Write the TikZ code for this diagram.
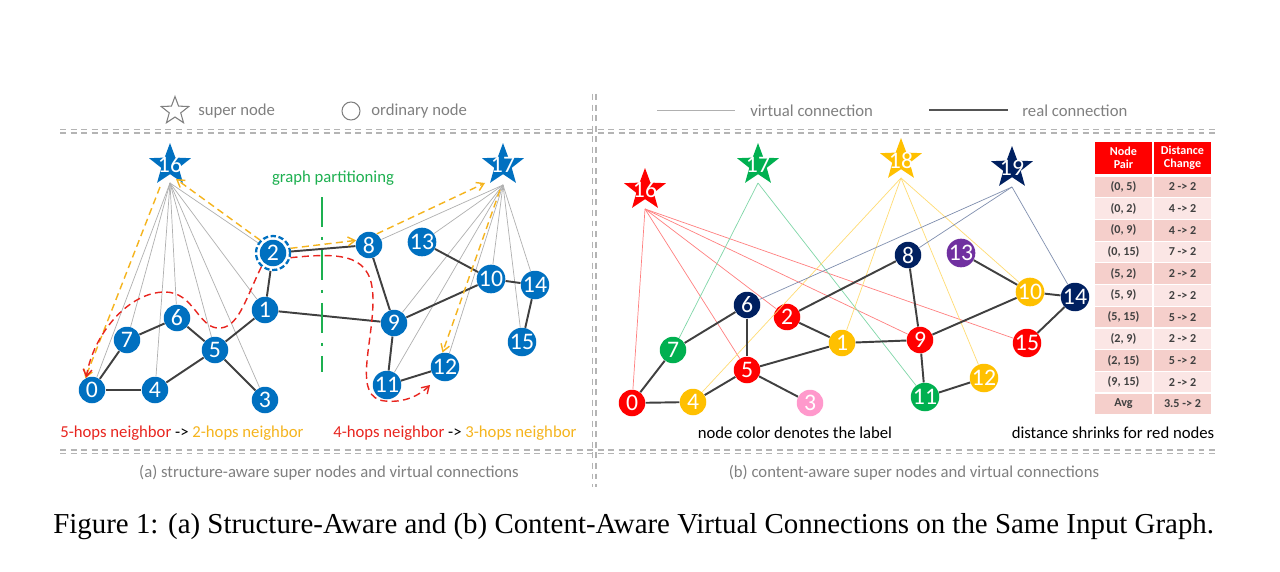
\documentclass[tikz,border=0pt]{standalone}
\usepackage{fontspec}
\setmainfont{Liberation Serif}
\setsansfont{Carlito}
\usetikzlibrary{shapes.geometric,arrows.meta,positioning}

\definecolor{nodeblue}{HTML}{0070C0}
\definecolor{lblred}{HTML}{FF0000}
\definecolor{lblgreen}{HTML}{00B050}
\definecolor{lblyellow}{HTML}{FFC000}
\definecolor{lblnavy}{HTML}{002060}
\definecolor{lblpurple}{HTML}{7030A0}
\definecolor{lblpink}{HTML}{FF99CC}
\definecolor{edgegray}{HTML}{404040}
\definecolor{virtgray}{HTML}{B0B0B0}
\definecolor{sepgray}{HTML}{B4B4B4}
\definecolor{txtgray}{HTML}{808080}
\definecolor{rowdark}{HTML}{F5CFCB}
\definecolor{rowlight}{HTML}{FBE6E5}
\definecolor{hopred}{HTML}{E8251F}
\definecolor{hopyellow}{HTML}{F5B41E}
\definecolor{cutgreen}{HTML}{1DB050}

\newcommand{\numfont}{\sffamily\fontsize{13.5}{14}\selectfont}
\newcommand{\legendfont}{\sffamily\fontsize{9.5}{11}\selectfont}
\newcommand{\tabfont}{\sffamily\bfseries\fontsize{6.9}{7.4}\selectfont}

\tikzset{
  onode/.style={circle, inner sep=0pt, minimum size=0.53cm, text=white, font=\numfont},
  bnode/.style={onode, fill=nodeblue},
  superstar/.style={star, star points=5, star point ratio=2.4, inner sep=0pt, minimum size=0.88cm},
  numw/.style={text=white, font=\numfont, inner sep=0pt},
  real/.style={draw=edgegray, line width=1.1pt},
  virt/.style={draw=virtgray, line width=0.4pt},
  cvirt/.style={line width=0.4pt},
  sepline/.style={draw=sepgray, line width=0.7pt, dash pattern=on 3.4pt off 2.6pt},
  hop/.style={line width=0.8pt, dash pattern=on 4pt off 2.5pt, ->},
  txt/.style={inner sep=0pt, font=\legendfont},
  tcell/.style={rectangle, inner sep=0pt, minimum width=1.14cm, minimum height=0.41cm, font=\tabfont, text=edgegray},
  thead/.style={tcell, fill=lblred, text=white, minimum height=0.64cm, align=center},
}

\begin{document}
\begin{tikzpicture}[x=0.02cm, y=-0.02cm, >={Straight Barb[length=4pt,width=5pt]}]
\fill[white] (0,0) rectangle (1280,571);
\useasboundingbox (0,0) rectangle (1280,571);

% legend
\node[superstar, draw=txtgray, line width=0.6pt, minimum size=0.58cm] (legstar) at (175,111) {};
\node[txt, text=txtgray, anchor=west] (legsuper) at (198,111) {super node};
\node[circle, draw=txtgray, line width=0.6pt, minimum size=0.36cm, inner sep=0pt] (legcirc) at (351,111) {};
\node[txt, text=txtgray, anchor=west] (legord) at (371,111) {ordinary node};
\coordinate (lv1) at (657,110);
\coordinate (lv2) at (735,110);
\draw[virt] (lv1) -- (lv2);
\node[txt, text=txtgray, anchor=west] (legvirt) at (750,111) {virtual connection};
\coordinate (lr1) at (929,110);
\coordinate (lr2) at (1008,110);
\draw[draw=edgegray!90, line width=1.2pt] (lr1) -- (lr2);
\node[txt, text=txtgray, anchor=west] (legreal) at (1022,111) {real connection};

% separators
\draw[sepline] (60,129.5) -- (1218,129.5);
\draw[sepline] (60,133) -- (1218,133);
\draw[sepline] (60,450) -- (1218,450);
\draw[sepline] (60,453.5) -- (1218,453.5);
\draw[sepline] (592.5,94) -- (592.5,487);
\draw[sepline] (596,94) -- (596,487);

% (a) structure-aware
\node[superstar, fill=nodeblue, label={[numw, name=t16]center:16}] (as16) at (170,165) {};
\node[superstar, fill=nodeblue, label={[numw, name=t17]center:17}] (as17) at (503,165) {};
\coordinate (h16) at ([yshift=-0.36cm]as16.center);
\coordinate (h17) at ([yshift=-0.4cm]as17.center);
\node[bnode] (a0) at (92,390) {0};
\node[bnode] (a1) at (265,310) {1};
\node[bnode] (a2) at (273,253) {2};
\node[circle, draw=nodeblue, line width=1.3pt, dash pattern=on 3pt off 1.5pt, minimum size=0.68cm] (r2) at (a2) {};
\node[bnode] (a3) at (265,400) {3};
\node[bnode] (a4) at (155,390) {4};
\node[bnode] (a5) at (215,350) {5};
\node[bnode] (a6) at (177,318) {6};
\node[bnode] (a7) at (127,340) {7};
\node[bnode] (a8) at (369,245) {8};
\node[bnode] (a9) at (394,323) {9};
\node[bnode] (a10) at (491,279) {10};
\node[bnode] (a11) at (387,385) {11};
\node[bnode] (a12) at (445,367) {12};
\node[bnode] (a13) at (422,242) {13};
\node[bnode] (a14) at (535,285) {14};
\node[bnode] (a15) at (522,342) {15};

\draw[virt] (h16) -- (a0);
\draw[virt] (h16) -- (a7);
\draw[virt] (h16) -- (a4);
\draw[virt] (h16) -- (a6);
\draw[virt] (h16) -- (a5);
\draw[virt] (h16) -- (a3);
\draw[virt] (h16) -- (a1);
\draw[virt] (h16) -- (r2);
\draw[virt] (h17) -- (a8);
\draw[virt] (h17) -- (a13);
\draw[virt] (h17) -- (a9);
\draw[virt] (h17) -- (a11);
\draw[virt] (h17) -- (a12);
\draw[virt] (h17) -- (a10);
\draw[virt] (h17) -- (a15);
\draw[virt] (h17) -- (a14);

\draw[real] (a0) -- (a4);
\draw[real] (a0) -- (a7);
\draw[real] (a7) -- (a6);
\draw[real] (a6) -- (a5);
\draw[real] (a4) -- (a5);
\draw[real] (a5) -- (a3);
\draw[real] (a5) -- (a1);
\draw[real] (a1) -- (r2);
\draw[real] (r2) -- (a8);
\draw[real] (a1) -- (a9);
\draw[real] (a8) -- (a9);
\draw[real] (a9) -- (a11);
\draw[real] (a11) -- (a12);
\draw[real] (a9) -- (a10);
\draw[real] (a13) -- (a10);
\draw[real] (a10) -- (a14);
\draw[real] (a14) -- (a15);

\coordinate (cut1) at (322,197);
\coordinate (cut2) at (322,372);
\draw[cutgreen, line width=1.7pt, dash pattern=on 0.6cm off 0.2cm on 0.06cm off 0.2cm] (cut1) -- (cut2);
\node[txt, text=cutgreen] (cutlbl) at (333,178) {graph partitioning};

\draw[hop, draw=hopyellow] (r2.135) -- ([xshift=0.12cm,yshift=0.08cm]h16);
\draw[hop, draw=hopyellow] ([xshift=-0.2cm,yshift=-0.08cm]h16) -- (a0.120);
\draw[hop, draw=hopyellow] (r2.15) -- (a8.160);
\draw[hop, draw=hopyellow] (a8.55) -- ([xshift=-0.36cm,yshift=0.04cm]h17);
\draw[hop, draw=hopyellow] ([xshift=-0.06cm,yshift=-0.1cm]h17) -- (a12.100);
\draw[hop, draw=hopred] (r2.230) .. controls (245,300) and (238,330) .. (217,328)
  .. controls (198,326) and (193,292) .. (165,292) .. controls (128,292) and (93,335) .. (a0.115);
\coordinate (hopend) at (430,385);
\draw[hop, draw=hopred] (r2.-15) .. controls (345,252) and (373,255) .. (373,300)
  .. controls (373,345) and (352,398) .. (385,401) .. controls (405,403) and (420,395) .. (hopend);

\node[txt, anchor=west] (hops5) at (60,433) {\color{hopred}5-hops neighbor \color{black}-> \color{hopyellow}2-hops neighbor};
\node[txt, anchor=west] (hops4) at (333,433) {\color{hopred}4-hops neighbor \color{black}-> \color{hopyellow}3-hops neighbor};
\node[txt, text=txtgray] (capa) at (329,473) {(a) structure-aware super nodes and virtual connections};

% (b) content-aware
\node[superstar, fill=lblred, label={[numw, name=u16]center:16}] (bs16) at (645,190) {};
\node[superstar, fill=lblgreen, label={[numw, name=u17]center:17}] (bs17) at (758,165) {};
\node[superstar, fill=lblyellow, label={[numw, name=u18]center:18}] (bs18) at (901,160) {};
\node[superstar, fill=lblnavy, label={[numw, name=u19]center:19}] (bs19) at (1012,168) {};
\coordinate (k16) at ([yshift=-0.38cm]bs16.center);
\coordinate (k17) at ([yshift=-0.36cm]bs17.center);
\coordinate (k18) at ([yshift=-0.36cm]bs18.center);
\coordinate (k19) at ([yshift=-0.38cm]bs19.center);
\node[onode, fill=lblred] (b0) at (632,403) {0};
\node[onode, fill=lblyellow] (b1) at (842,343) {1};
\node[onode, fill=lblred] (b2) at (787,317) {2};
\node[onode, fill=lblpink] (b3) at (810,403) {3};
\node[onode, fill=lblyellow] (b4) at (693,402) {4};
\node[onode, fill=lblred] (b5) at (747,370) {5};
\node[onode, fill=lblnavy] (b6) at (747,305) {6};
\node[onode, fill=lblgreen] (b7) at (673,350) {7};
\node[onode, fill=lblnavy] (b8) at (908,255) {8};
\node[onode, fill=lblred] (b9) at (920,340) {9};
\node[onode, fill=lblyellow] (b10) at (1030,292) {10};
\node[onode, fill=lblgreen] (b11) at (925,397) {11};
\node[onode, fill=lblyellow] (b12) at (984,378) {12};
\node[onode, fill=lblpurple] (b13) at (961,253) {13};
\node[onode, fill=lblnavy] (b14) at (1075,297) {14};
\node[onode, fill=lblred] (b15) at (1027,343) {15};

\draw[cvirt, draw=lblred!50] (k16) -- (b0);
\draw[cvirt, draw=lblred!50] (k16) -- (b5);
\draw[cvirt, draw=lblred!50] (k16) -- (b2);
\draw[cvirt, draw=lblred!50] (k16) -- (b9);
\draw[cvirt, draw=lblred!50] (k16) -- (b15);
\draw[cvirt, draw=lblgreen!50] (k17) -- (b7);
\draw[cvirt, draw=lblgreen!50] (k17) -- (b11);
\draw[cvirt, draw=lblyellow!55] (k18) -- (b4);
\draw[cvirt, draw=lblyellow!55] (k18) -- (b1);
\draw[cvirt, draw=lblyellow!55] (k18) -- (b12);
\draw[cvirt, draw=lblyellow!55] (k18) -- (b10);
\draw[cvirt, draw=lblnavy!50] (k19) -- (b6);
\draw[cvirt, draw=lblnavy!50] (k19) -- (b8);
\draw[cvirt, draw=lblnavy!50] (k19) -- (b14);

\draw[real] (b0) -- (b4);
\draw[real] (b0) -- (b7);
\draw[real] (b7) -- (b6);
\draw[real] (b6) -- (b5);
\draw[real] (b4) -- (b5);
\draw[real] (b5) -- (b3);
\draw[real] (b5) -- (b1);
\draw[real] (b2) -- (b1);
\draw[real] (b2) -- (b8);
\draw[real] (b1) -- (b9);
\draw[real] (b8) -- (b9);
\draw[real] (b9) -- (b11);
\draw[real] (b11) -- (b12);
\draw[real] (b9) -- (b10);
\draw[real] (b13) -- (b10);
\draw[real] (b10) -- (b14);
\draw[real] (b14) -- (b15);

\node[thead] (th1) at (1123.5,158) {Node\\Pair};
\node[thead] (th2) at (1182.5,158) {Distance\\Change};
\node[tcell, fill=rowdark] (r1a) at (1123.5,186.9) {(0, 5)};
\node[tcell, fill=rowdark] (r1b) at (1182.5,186.9) {2 -> 2};
\node[tcell, fill=rowlight] (r2a) at (1123.5,208.6) {(0, 2)};
\node[tcell, fill=rowlight] (r2b) at (1182.5,208.6) {4 -> 2};
\node[tcell, fill=rowdark] (r3a) at (1123.5,230.3) {(0, 9)};
\node[tcell, fill=rowdark] (r3b) at (1182.5,230.3) {4 -> 2};
\node[tcell, fill=rowlight] (r4a) at (1123.5,252) {(0, 15)};
\node[tcell, fill=rowlight] (r4b) at (1182.5,252) {7 -> 2};
\node[tcell, fill=rowdark] (r5a) at (1123.5,273.7) {(5, 2)};
\node[tcell, fill=rowdark] (r5b) at (1182.5,273.7) {2 -> 2};
\node[tcell, fill=rowlight] (r6a) at (1123.5,295.4) {(5, 9)};
\node[tcell, fill=rowlight] (r6b) at (1182.5,295.4) {2 -> 2};
\node[tcell, fill=rowdark] (r7a) at (1123.5,317.1) {(5, 15)};
\node[tcell, fill=rowdark] (r7b) at (1182.5,317.1) {5 -> 2};
\node[tcell, fill=rowlight] (r8a) at (1123.5,338.8) {(2, 9)};
\node[tcell, fill=rowlight] (r8b) at (1182.5,338.8) {2 -> 2};
\node[tcell, fill=rowdark] (r9a) at (1123.5,360.5) {(2, 15)};
\node[tcell, fill=rowdark] (r9b) at (1182.5,360.5) {5 -> 2};
\node[tcell, fill=rowlight] (r10a) at (1123.5,382.2) {(9, 15)};
\node[tcell, fill=rowlight] (r10b) at (1182.5,382.2) {2 -> 2};
\node[tcell, fill=rowdark] (r11a) at (1123.5,403.9) {Avg};
\node[tcell, fill=rowdark] (r11b) at (1182.5,403.9) {3.5 -> 2};

\node[txt] (colornote) at (795,433) {node color denotes the label};
\node[txt] (shrinknote) at (1113,433) {distance shrinks for red nodes};
\node[txt, text=txtgray] (capb) at (914,473) {(b) content-aware super nodes and virtual connections};

\node[anchor=base west, inner sep=0pt, font=\rmfamily\fontsize{16.45}{18}\selectfont] (figcap) at (53,533)
  {Figure 1: (a) Structure-Aware and (b) Content-Aware Virtual Connections on the Same Input Graph.};
\end{tikzpicture}
\end{document}
